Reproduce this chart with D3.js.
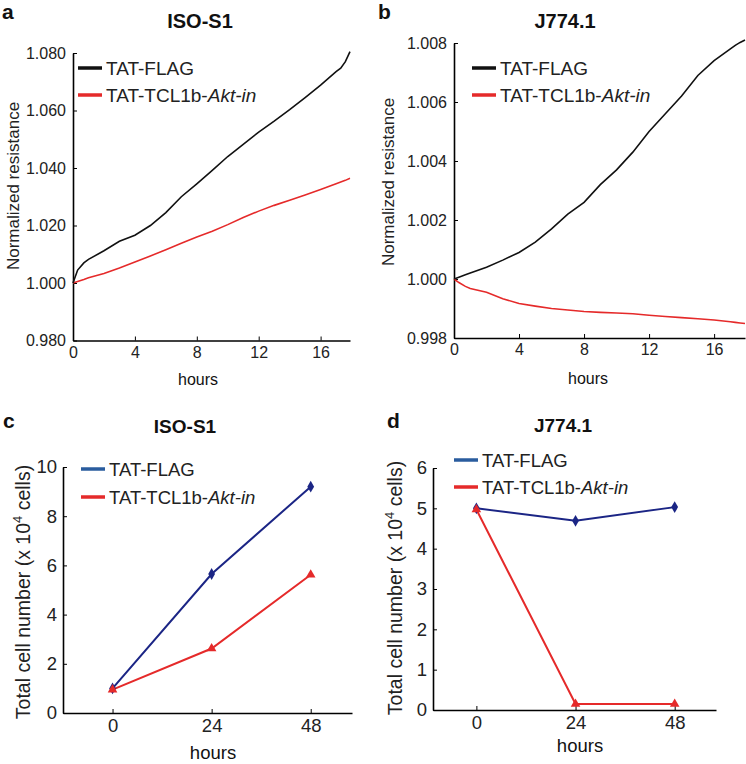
<!DOCTYPE html>
<html><head><meta charset="utf-8">
<script src="https://cdn.jsdelivr.net/npm/d3@7"></script>
<style>
body{margin:0;background:#fff;}
svg{font-family:"Liberation Sans",Arial,Helvetica,sans-serif;}
</style></head>
<body><svg id="c" width="746" height="764"></svg>
<script>
// ---- data ----
const hoursRes = [0, 0.3, 0.7, 1, 2, 3, 4, 5, 6, 7, 8, 9, 10, 11, 12, 13, 14, 15, 16, 17, 17.3, 17.6, 17.9];
const isoFlag  = [1.000, 1.0045, 1.0070, 1.0082, 1.0112, 1.0145, 1.0166, 1.0200, 1.0245, 1.0300, 1.0345, 1.0392, 1.0440, 1.0482, 1.0525, 1.0563, 1.0603, 1.0645, 1.0688, 1.0735, 1.0747, 1.0770, 1.0805];
const isoAkt   = [1.000, 1.0005, 1.0012, 1.0018, 1.0033, 1.0052, 1.0073, 1.0094, 1.0116, 1.0138, 1.0160, 1.0180, 1.0203, 1.0228, 1.0250, 1.0270, 1.0288, 1.0306, 1.0325, 1.0345, 1.0351, 1.0357, 1.0364];
const jFlag    = [1.0000, 1.00006, 1.00014, 1.0002, 1.0004, 1.00064, 1.0009, 1.00125, 1.0017, 1.0022, 1.0026, 1.0032, 1.0037, 1.0043, 1.0050, 1.0056, 1.0062, 1.0069, 1.0074, 1.0078, 1.00792, 1.00802, 1.0081];
const jAkt     = [1.0000, 0.99988, 0.99975, 0.99968, 0.99955, 0.99933, 0.99917, 0.99908, 0.99900, 0.99895, 0.99890, 0.99887, 0.99885, 0.99882, 0.99877, 0.99873, 0.99869, 0.99865, 0.99861, 0.99855, 0.99853, 0.99851, 0.99849];

const hoursCount = [0, 24, 48];
const isoCountFlag = [1.0, 5.65, 9.2];
const isoCountAkt  = [0.95, 2.62, 5.62];
const jCountFlag   = [5.0, 4.69, 5.03];
const jCountAkt    = [4.97, 0.15, 0.15];

const resTicksX = [0, 4, 8, 12, 16];
const isoResTicksY = [0.98, 1.00, 1.02, 1.04, 1.06, 1.08];
const jResTicksY = [0.998, 1.000, 1.002, 1.004, 1.006, 1.008];
const countTicksX = [0, 24, 48];
const isoCountTicksY = [0, 2, 4, 6, 8, 10];
const jCountTicksY = [0, 1, 2, 3, 4, 5, 6];

const labelFlag = "TAT-FLAG";
const labelAktPre = "TAT-TCL1b-";
const labelAktIt = "Akt-in";

const BLACK = "#111", RED = "#e52a2a", NAVY = "#1b2585", LEGBLUE = "#2a5c9e";

const svg = d3.select("#c");

function axes(g, x, y, xt, yt, fmt, fs, xPad, yPad) {
  const ax = g.append("g").attr("transform", `translate(0,${y.range()[0]})`)
    .call(d3.axisBottom(x).tickValues(xt).tickSizeInner(-4).tickSizeOuter(0).tickPadding(xPad));
  const ay = g.append("g").attr("transform", `translate(${x.range()[0]},0)`)
    .call(d3.axisLeft(y).tickValues(yt).tickFormat(fmt).tickSizeInner(-4).tickSizeOuter(0).tickPadding(yPad));
  [ax, ay].forEach(a => {
    a.select(".domain").attr("stroke", "#000").attr("stroke-width", 1.6);
    a.selectAll(".tick line").attr("stroke", "#000").attr("stroke-width", 1);
    a.selectAll("text").attr("font-size", fs).attr("fill", "#222").attr("font-family", null);
  });
}

function legend(x0, y0, dy, c1, c2, fs) {
  const g = svg.append("g");
  [[c1, 0], [c2, dy]].forEach(([c, off], i) => {
    g.append("line").attr("x1", x0).attr("x2", x0 + 24).attr("y1", y0 + off).attr("y2", y0 + off)
      .attr("stroke", c).attr("stroke-width", 3.5);
    const t = g.append("text").attr("x", x0 + 28).attr("y", y0 + off + 7).attr("font-size", fs).attr("fill", "#222");
    if (i === 0) t.text(labelFlag);
    else { t.append("tspan").text(labelAktPre); t.append("tspan").attr("font-style", "italic").text(labelAktIt); }
  });
}

function text(x, y, s, fs, weight, anchor) {
  return svg.append("text").attr("x", x).attr("y", y).attr("font-size", fs)
    .attr("font-weight", weight || "normal").attr("text-anchor", anchor || "middle").attr("fill", "#111").text(s);
}

function ylabelRes(x, y) {
  svg.append("text").attr("transform", `translate(${x},${y}) rotate(-90)`).attr("text-anchor", "middle")
    .attr("font-size", 17).attr("fill", "#222").text("Normalized resistance");
}
function ylabelCount(x, y) {
  const t = svg.append("text").attr("transform", `translate(${x},${y}) rotate(-90)`).attr("text-anchor", "middle")
    .attr("font-size", 19.5).attr("fill", "#222");
  t.append("tspan").text("Total cell number (x 10");
  t.append("tspan").attr("font-size", 13).attr("dy", -8).text("4");
  t.append("tspan").attr("dy", 8).text(" cells)");
}

// ---- panel a ----
{
  const x = d3.scaleLinear().domain([0, 17.9]).range([73, 350]);
  const y = d3.scaleLinear().domain([0.98, 1.08]).range([340.5, 53]);
  const g = svg.append("g");
  axes(g, x, y, resTicksX, isoResTicksY, d3.format(".3f"), 16, 6, 7);
  const line = d3.line().x((d, i) => x(hoursRes[i])).y(d => y(d));
  g.append("path").attr("d", line(isoAkt)).attr("fill", "none").attr("stroke", RED).attr("stroke-width", 1.6);
  g.append("path").attr("d", line(isoFlag)).attr("fill", "none").attr("stroke", BLACK).attr("stroke-width", 1.6);
  legend(78, 68, 27, BLACK, RED, 19);
  text(200, 28, "ISO-S1", 20, "bold");
  text(2, 19, "a", 21, "bold", "start");
  text(198, 385, "hours", 16);
  ylabelRes(19, 186);
}
// ---- panel b ----
{
  const x = d3.scaleLinear().domain([0, 17.9]).range([454, 745]);
  const y = d3.scaleLinear().domain([0.998, 1.008]).range([338, 43]);
  const g = svg.append("g");
  axes(g, x, y, resTicksX, jResTicksY, d3.format(".3f"), 16, 6, 7);
  const line = d3.line().x((d, i) => x(hoursRes[i])).y(d => y(d));
  g.append("path").attr("d", line(jAkt)).attr("fill", "none").attr("stroke", RED).attr("stroke-width", 1.6);
  g.append("path").attr("d", line(jFlag)).attr("fill", "none").attr("stroke", BLACK).attr("stroke-width", 1.6);
  legend(472, 68, 27, BLACK, RED, 19);
  text(565, 28, "J774.1", 20, "bold");
  text(378, 19, "b", 21, "bold", "start");
  text(588, 384, "hours", 16);
  ylabelRes(394, 182);
}
// ---- panel c ----
{
  const x = d3.scaleLinear().domain([-12, 58]).range([63, 352]);
  const y = d3.scaleLinear().domain([0, 10]).range([713, 467]);
  const g = svg.append("g");
  axes(g, x, y, countTicksX, isoCountTicksY, d3.format("d"), 18.5, 6, 6);
  const line = d3.line().x((d, i) => x(hoursCount[i])).y(d => y(d));
  g.append("path").attr("d", line(isoCountFlag)).attr("fill", "none").attr("stroke", NAVY).attr("stroke-width", 2);
  g.append("path").attr("d", line(isoCountAkt)).attr("fill", "none").attr("stroke", RED).attr("stroke-width", 2);
  g.selectAll(".dm").data(isoCountFlag).join("path").attr("transform", (d, i) => `translate(${x(hoursCount[i])},${y(d)})`)
    .attr("d", d3.symbol(d3.symbolDiamond, 40)).attr("fill", NAVY);
  g.selectAll(".tr").data(isoCountAkt).join("path").attr("transform", (d, i) => `translate(${x(hoursCount[i])},${y(d)})`)
    .attr("d", d3.symbol(d3.symbolTriangle, 40)).attr("fill", RED);
  legend(81, 469, 28, LEGBLUE, RED, 18.5);
  text(185, 433, "ISO-S1", 19, "bold");
  text(3, 428, "c", 21, "bold", "start");
  text(213, 759, "hours", 18.5);
  ylabelCount(30, 592);
}
// ---- panel d ----
{
  const x = d3.scaleLinear().domain([-10.5, 58]).range([433, 716]);
  const y = d3.scaleLinear().domain([0, 6]).range([710, 468]);
  const g = svg.append("g");
  axes(g, x, y, countTicksX, jCountTicksY, d3.format("d"), 18.5, 6, 6);
  const line = d3.line().x((d, i) => x(hoursCount[i])).y(d => y(d));
  g.append("path").attr("d", line(jCountFlag)).attr("fill", "none").attr("stroke", NAVY).attr("stroke-width", 2);
  g.append("path").attr("d", line(jCountAkt)).attr("fill", "none").attr("stroke", RED).attr("stroke-width", 2);
  g.selectAll(".dm").data(jCountFlag).join("path").attr("transform", (d, i) => `translate(${x(hoursCount[i])},${y(d)})`)
    .attr("d", d3.symbol(d3.symbolDiamond, 40)).attr("fill", NAVY);
  g.selectAll(".tr").data(jCountAkt).join("path").attr("transform", (d, i) => `translate(${x(hoursCount[i])},${y(d)})`)
    .attr("d", d3.symbol(d3.symbolTriangle, 40)).attr("fill", RED);
  legend(454, 460, 27, LEGBLUE, RED, 18.5);
  text(563, 432, "J774.1", 19, "bold");
  text(387, 428, "d", 21, "bold", "start");
  text(580, 752, "hours", 18.5);
  ylabelCount(402, 588);
}
</script></body></html>
